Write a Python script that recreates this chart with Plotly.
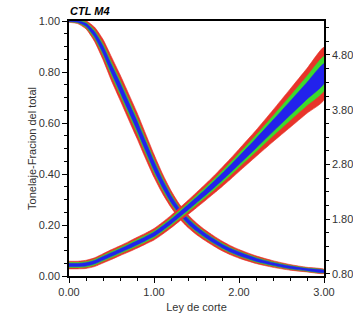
import plotly.graph_objects as go

# Cut-off grade (Ley de corte)
cutoff = [0.0, 0.1, 0.2, 0.3, 0.4, 0.5, 0.6, 0.7, 0.8, 0.9, 1.0, 1.1, 1.2, 1.3, 1.4,
          1.5, 1.6, 1.7, 1.8, 1.9, 2.0, 2.2, 2.4, 2.6, 2.8, 3.0]

# Tonnage fraction (left axis): centre and band half-widths
tonnage = [1.000, 0.998, 0.985, 0.948, 0.888, 0.812, 0.74, 0.665, 0.59, 0.51, 0.432,
           0.362, 0.302, 0.253, 0.215, 0.185, 0.16, 0.138, 0.118, 0.101, 0.087,
           0.064, 0.047, 0.034, 0.025, 0.018]
ton_red = [0.005, 0.008, 0.016, 0.028, 0.04, 0.047, 0.05, 0.051, 0.051, 0.049, 0.045,
           0.039, 0.033, 0.028, 0.025, 0.023, 0.021, 0.02, 0.019, 0.018, 0.017,
           0.015, 0.013, 0.011, 0.009, 0.008]
ton_green = [0.003, 0.005, 0.01, 0.016, 0.022, 0.026, 0.028, 0.029, 0.029, 0.028, 0.026,
             0.023, 0.019, 0.016, 0.014, 0.013, 0.012, 0.011, 0.011, 0.01, 0.01,
             0.009, 0.008, 0.007, 0.006, 0.005]
ton_blue = [0.002, 0.003, 0.006, 0.01, 0.014, 0.016, 0.018, 0.018, 0.018, 0.018, 0.017,
            0.015, 0.013, 0.011, 0.01, 0.009, 0.008, 0.008, 0.007, 0.007, 0.007,
            0.006, 0.005, 0.005, 0.004, 0.004]

# Mean grade above cut-off (right axis): centre and band half-widths
grade = [0.963, 0.963, 0.975, 1.015, 1.085, 1.155, 1.225, 1.295, 1.37, 1.445, 1.525,
         1.635, 1.755, 1.885, 2.015, 2.15, 2.285, 2.425, 2.57, 2.72, 2.875,
         3.185, 3.505, 3.825, 4.145, 4.46]
gr_red = [0.07, 0.07, 0.075, 0.08, 0.085, 0.09, 0.09, 0.095, 0.1, 0.1, 0.105,
          0.11, 0.115, 0.12, 0.13, 0.14, 0.15, 0.16, 0.175, 0.19, 0.205,
          0.24, 0.29, 0.35, 0.41, 0.48]
gr_green = [0.045, 0.045, 0.048, 0.05, 0.052, 0.055, 0.055, 0.058, 0.06, 0.06, 0.062,
            0.065, 0.068, 0.072, 0.078, 0.085, 0.09, 0.096, 0.105, 0.115, 0.125,
            0.15, 0.18, 0.22, 0.265, 0.31]
gr_blue = [0.028, 0.028, 0.03, 0.03, 0.032, 0.033, 0.033, 0.035, 0.036, 0.036, 0.037,
           0.039, 0.041, 0.043, 0.047, 0.05, 0.054, 0.058, 0.063, 0.068, 0.074,
           0.088, 0.105, 0.127, 0.152, 0.18]

left_ticks = [0.0, 0.2, 0.4, 0.6, 0.8, 1.0]
right_ticks = [0.8, 1.8, 2.8, 3.8, 4.8]
x_ticks = [0.0, 1.0, 2.0, 3.0]

RED = "rgb(232,52,42)"
GREEN = "rgb(60,218,44)"
BLUE = "rgb(34,34,236)"

fig = go.Figure()


def band(x, c, w, color, yaxis):
    up = [a + b for a, b in zip(c, w)]
    lo = [a - b for a, b in zip(c, w)]
    fig.add_trace(go.Scatter(
        x=list(x) + list(x)[::-1], y=up + lo[::-1], fill="toself",
        fillcolor=color, line=dict(width=0.6, color=color, shape="spline", smoothing=0.6),
        mode="lines", yaxis=yaxis, hoverinfo="skip", showlegend=False))


for w, col in [(gr_red, RED), (gr_green, GREEN), (gr_blue, BLUE)]:
    band(cutoff, grade, w, col, "y2")
for w, col in [(ton_red, RED), (ton_green, GREEN), (ton_blue, BLUE)]:
    band(cutoff, tonnage, w, col, "y")

FAM = "Liberation Sans, Arial, sans-serif"
font = dict(family=FAM, size=11, color="#333")

fig.update_layout(
    width=353, height=321,
    margin=dict(l=69, r=29, t=21, b=45),
    paper_bgcolor="white", plot_bgcolor="white",
    font=font,
    showlegend=False,
    title=dict(text="<b><i>CTL M4</i></b>", x=70 / 353, xanchor="left",
               y=1 - 11 / 321, yanchor="middle",
               font=dict(family=FAM, size=11, color="black")),
    xaxis=dict(range=[0, 3], tickvals=x_ticks, tickformat=".2f", automargin=False,
               showline=True, linecolor="black", linewidth=1.5, mirror=True,
               ticks="outside", ticklen=5, tickcolor="black", tickwidth=1.2,
               minor=dict(dtick=0.2, tick0=0, ticks="outside", ticklen=3,
                          tickcolor="black", tickwidth=1),
               showgrid=False, zeroline=False,
               title=dict(text="Ley de corte", standoff=6, font=dict(size=11))),
    yaxis=dict(range=[0, 1], tickvals=left_ticks, tickformat=".2f", automargin=False,
               showline=True, linecolor="black", linewidth=1.5,
               ticks="outside", ticklen=5, tickcolor="black", tickwidth=1.2,
               minor=dict(dtick=0.05, tick0=0, ticks="outside", ticklen=3,
                          tickcolor="black", tickwidth=1),
               showgrid=False, zeroline=False,
               title=dict(text="Tonelaje-Fracion del total", standoff=0, font=dict(size=11))),
    yaxis2=dict(range=[0.763, 5.42], overlaying="y", side="right", automargin=False,
                tickvals=right_ticks, tickformat=".2f",
                tickfont=dict(size=11),
                showline=True, linecolor="black", linewidth=1.5,
                ticks="outside", ticklen=4, tickcolor="black", tickwidth=1.2,
                minor=dict(dtick=0.25, tick0=0.8, ticks="outside", ticklen=3,
                           tickcolor="black", tickwidth=1),
                showgrid=False, zeroline=False),
)

fig.write_html("out.html", config={"displayModeBar": False},
               post_script="document.body.style.margin='0';document.documentElement.style.overflow='hidden';")
